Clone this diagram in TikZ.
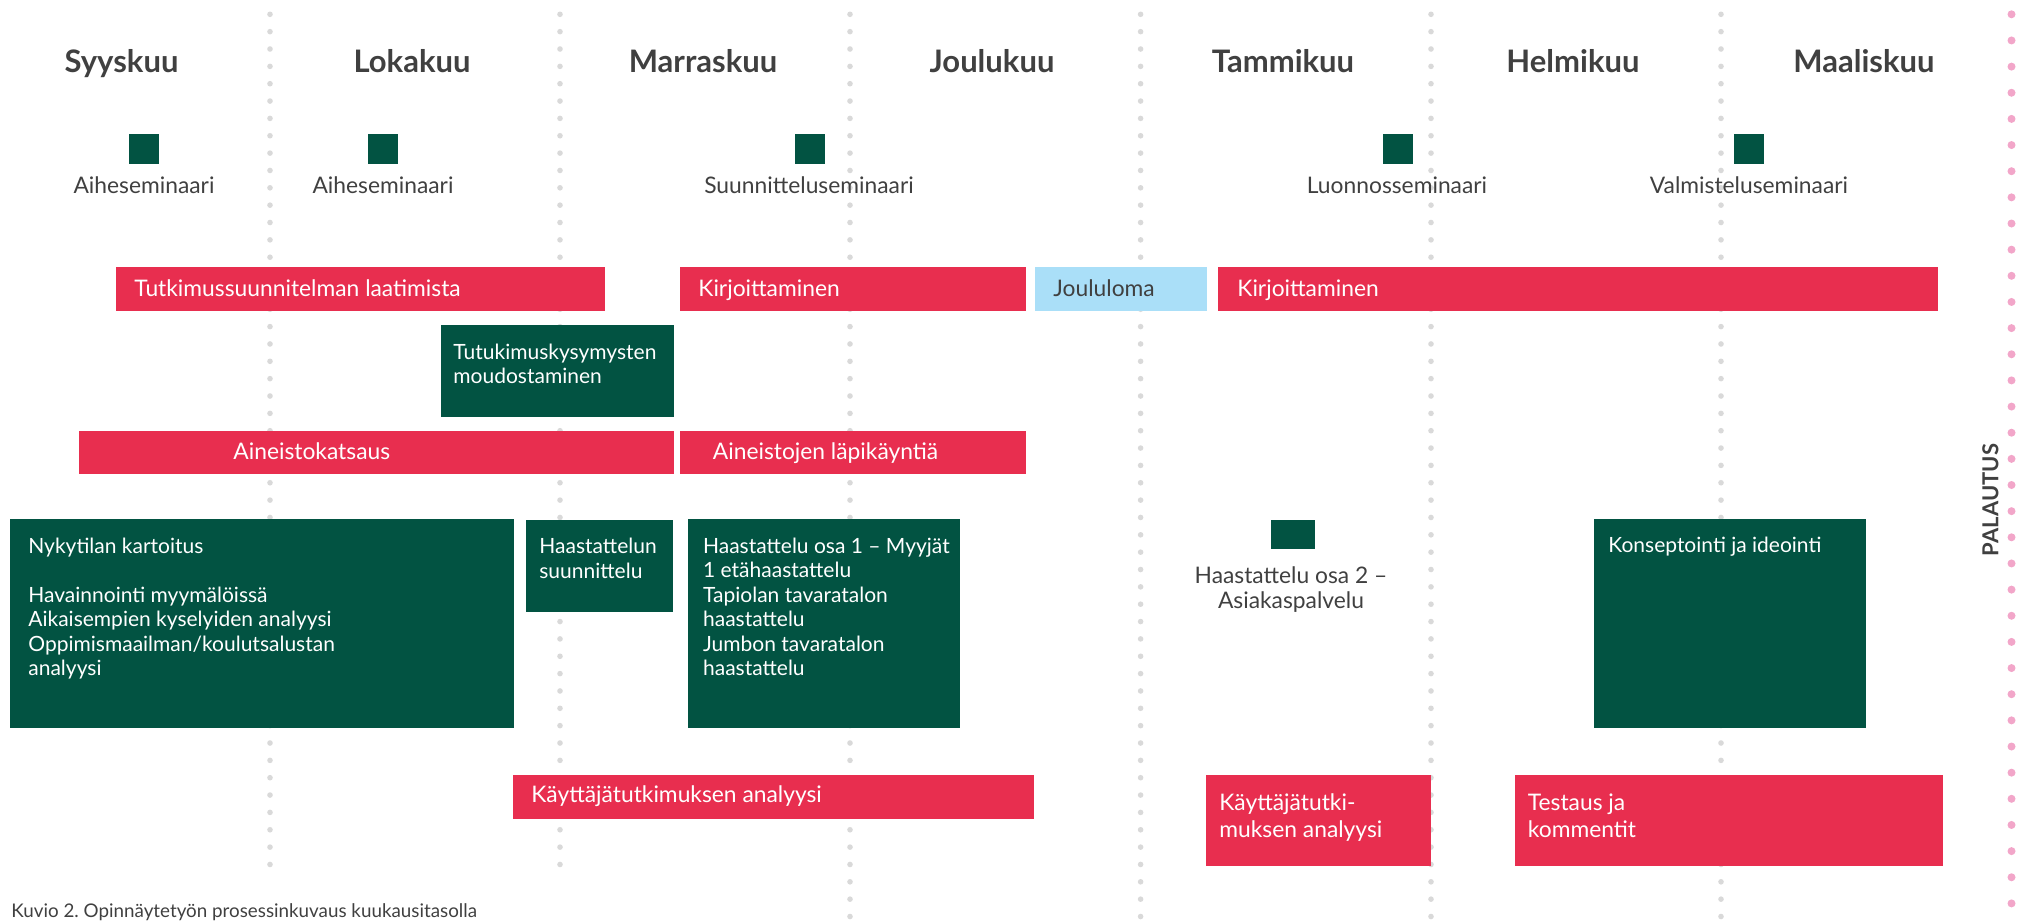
\documentclass[tikz,border=0pt]{standalone}
\usepackage{fontspec}
\setmainfont{Lato}
\usetikzlibrary{fit}
\frenchspacing
\definecolor{barred}{RGB}{232,46,79}
\definecolor{boxgreen}{RGB}{2,83,66}
\definecolor{holiday}{RGB}{170,223,248}
\definecolor{ink}{RGB}{64,64,64}
\definecolor{gridgray}{RGB}{217,217,217}
\definecolor{pinkdot}{RGB}{242,166,201}
% left-aligned and centred stacks of lines, baseline at the first line
\newcommand\leftlines[2]{\vtop{\baselineskip=#1\lineskiplimit=-100pt\halign{##\hfil\cr#2\crcr}}}
\newcommand\midlines[2]{\vtop{\baselineskip=#1\lineskiplimit=-100pt\halign{\hfil##\hfil\cr#2\crcr}}}
\begin{document}
\begin{tikzpicture}[x=0.5pt,y=-0.5pt,
  month/.style={anchor=base, inner sep=0pt, text=ink, font=\fontsize{15.5pt}{18pt}\selectfont\bfseries},
  semlabel/.style={anchor=base, inner sep=0pt, text=ink, font=\fontsize{11.4pt}{14pt}\selectfont},
  seminarbox/.style={fill=boxgreen, inner sep=0pt},
  redbar/.style={fill=barred, inner sep=0pt},
  greenbox/.style={fill=boxgreen, inner sep=0pt},
  holidaybar/.style={fill=holiday, inner sep=0pt},
  bartext/.style={anchor=base west, inner sep=0pt, text=white, font=\fontsize{11.4pt}{14pt}\selectfont},
  boxtext/.style={anchor=base west, inner sep=0pt, text=white, font=\fontsize{10.5pt}{12.25pt}\selectfont},
]
\useasboundingbox (0,0) rectangle (2025,923);

% month separators: dotted grey columns
\foreach \x in {270,560}
  \foreach \k in {0,...,49}
    \fill[gridgray] (\x,14.3+17.35*\k) circle[radius=2.8];
\foreach \x in {850,1140.6,1431,1721}
  \foreach \k in {0,...,52}
    \fill[gridgray] (\x,14.3+17.35*\k) circle[radius=2.8];
% deadline column
\foreach \k in {0,...,35}
  \fill[pinkdot] (2011.5,14.3+26.15*\k) circle[radius=4];

% month headings
\node[month] (m1) at (121.5,72) {Syyskuu};
\node[month] (m2) at (412,72) {Lokakuu};
\node[month] (m3) at (703,72) {Marraskuu};
\node[month] (m4) at (992,72) {Joulukuu};
\node[month] (m5) at (1283,72) {Tammikuu};
\node[month] (m6) at (1573,72) {Helmikuu};
\node[month] (m7) at (1864,72) {Maaliskuu};

% seminars
\node[seminarbox, fit={(129,134)(159,164)}] (s1) {};
\node[seminarbox, fit={(368,134)(398,164)}] (s2) {};
\node[seminarbox, fit={(795,134)(825,164)}] (s3) {};
\node[seminarbox, fit={(1383,134)(1413,164)}] (s4) {};
\node[seminarbox, fit={(1734,134)(1764,164)}] (s5) {};
\node[semlabel] (s1t) at (144,193) {Aiheseminaari};
\node[semlabel] (s2t) at (383,193) {Aiheseminaari};
\node[semlabel] (s3t) at (809,193) {Suunnitteluseminaari};
\node[semlabel] (s4t) at (1397,193) {Luonnosseminaari};
\node[semlabel] (s5t) at (1749,193) {Valmisteluseminaari};

% writing row
\node[redbar, fit={(116,267)(605,311)}] (w1) {};
\node[bartext] (w1t) at (134,296) {Tutkimussuunnitelman laatimista};
\node[redbar, fit={(680,267)(1026,311)}] (w2) {};
\node[bartext] (w2t) at (698,296) {Kirjoittaminen};
\node[holidaybar, fit={(1035,267)(1207,311)}] (hol) {};
\node[bartext, text=ink] (holt) at (1053,296) {Joululoma};
\node[redbar, fit={(1218,267)(1938,311)}] (w3) {};
\node[bartext] (w3t) at (1237,296) {Kirjoittaminen};

% research questions
\node[greenbox, fit={(441,325)(674,417)}] (q) {};
\node[boxtext] (qt) at (453,359) {\leftlines{12pt}{Tutukimuskysymysten\cr moudostaminen}};

% literature row
\node[redbar, fit={(79,431)(674,474)}] (l1) {};
\node[bartext] (l1t) at (233,459) {Aineistokatsaus};
\node[redbar, fit={(680,431)(1026,474)}] (l2) {};
\node[bartext] (l2t) at (712.5,459) {Aineistojen läpikäyntiä};

% field work
\node[greenbox, fit={(10,519)(514,728)}] (f1) {};
\node[boxtext] (f1t) at (28,553) {\leftlines{12.25pt}{Nykytilan kartoitus\cr\cr
  Havainnointi myymälöissä\cr Aikaisempien kyselyiden analyysi\cr
  Oppimismaailman/koulutsalustan\cr analyysi}};
\node[greenbox, fit={(526,520)(673,612)}] (f2) {};
\node[boxtext] (f2t) at (539,553) {\leftlines{12.5pt}{Haastattelun\cr suunnittelu}};
\node[greenbox, fit={(688,519)(960,728)}] (f3) {};
\node[boxtext] (f3t) at (702.7,553) {\leftlines{12.25pt}{Haastattelu osa 1 – Myyjät\cr
  1 etähaastattelu\cr Tapiolan tavaratalon\cr haastattelu\cr
  Jumbon tavaratalon\cr haastattelu}};
\node[greenbox, fit={(1271,520)(1315,549)}] (f4) {};
\node[semlabel] (f4t) at (1291,583) {\midlines{12.5pt}{Haastattelu osa 2 –\cr Asiakaspalvelu}};
\node[greenbox, fit={(1594,519)(1866,727.5)}] (f5) {};
\node[boxtext] (f5t) at (1608,552) {Konseptointi ja ideointi};

% analysis and testing
\node[redbar, fit={(513,775)(1034,819)}] (a1) {};
\node[bartext] (a1t) at (531,802) {Käyttäjätutkimuksen analyysi};
\node[redbar, fit={(1206,775)(1431,866)}] (a2) {};
\node[bartext] (a2t) at (1219,810) {\leftlines{13.5pt}{Käyttäjätutki-\cr muksen analyysi}};
\node[redbar, fit={(1515,775)(1943,866)}] (a3) {};
\node[bartext] (a3t) at (1527.5,810.5) {\leftlines{13.5pt}{Testaus ja\cr kommentit}};

% deadline label
\node[rotate=90, inner sep=0pt, text=ink, font=\fontsize{11pt}{12pt}\selectfont\bfseries] (ret) at (1990.5,500) {PALAUTUS};

% caption
\node[anchor=base west, inner sep=0pt, text=ink, font=\fontsize{9.4pt}{11pt}\selectfont] (cap) at (11,917.5) {Kuvio 2. Opinnäytetyön prosessinkuvaus kuukausitasolla};
\end{tikzpicture}
\end{document}
